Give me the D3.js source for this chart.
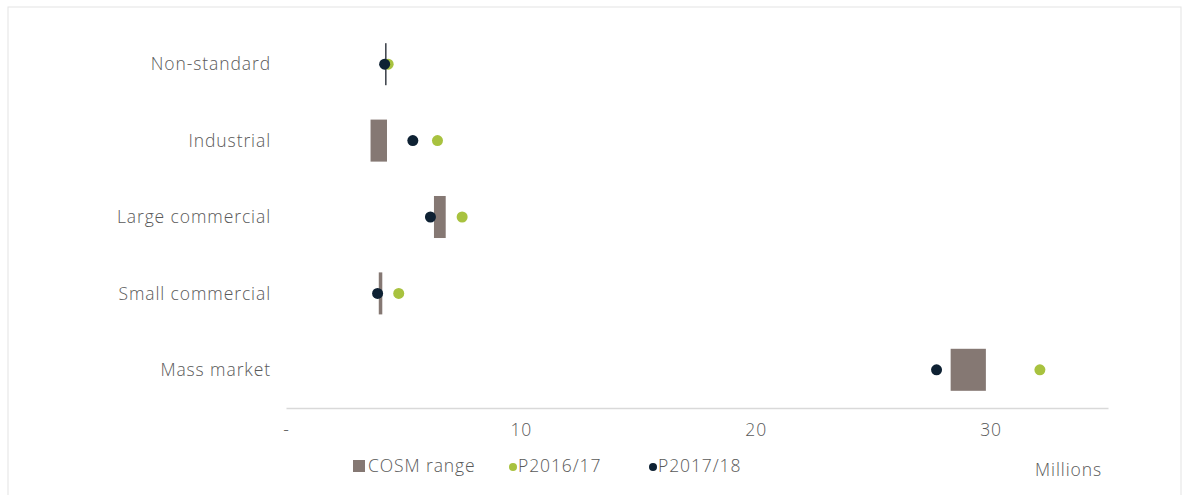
<!DOCTYPE html>
<html>
<head>
<meta charset="utf-8">
<script src="https://cdn.jsdelivr.net/npm/d3@7"></script>
<style>
  body { margin: 0; background: #fff; }
  text { font-family: "Open Sans", Lato, sans-serif; font-weight: 300; fill: #595959; letter-spacing: 0.9px; }
</style>
</head>
<body>
<div id="chart"></div>
<script>
const categories = ['Non-standard', 'Industrial', 'Large commercial', 'Small commercial', 'Mass market'];
const cosmMin = [4.25, 3.6, 6.3, 3.95, 28.3];
const cosmMax = [4.25, 4.3, 6.8, 4.1, 29.8];
const p2016 = [4.35, 6.45, 7.5, 4.8, 32.1];
const p2017 = [4.2, 5.4, 6.15, 3.9, 27.7];
const ticks = [0, 10, 20, 30];

const width = 1189;
const height = 495;
const margin = { top: 26, bottom: 87, left: 286, right: 81 };

const colors = { cosm: '#857873', p16: '#a8c23f', p17: '#0e2133' };

const svg = d3.select('#chart')
  .append('svg')
  .attr('width', width)
  .attr('height', height);

// light frame round the figure
svg.append('rect')
  .attr('x', 8).attr('y', 7)
  .attr('width', 1173).attr('height', 500)
  .attr('fill', 'none')
  .attr('stroke', '#e3e3e3');

const x = d3.scaleLinear()
  .domain([0, 35])
  .range([margin.left, width - margin.right]);

const y = d3.scaleBand()
  .domain(categories)
  .range([margin.top, height - margin.bottom])
  .paddingInner(0.45)
  .paddingOuter(0.225);

// category labels
svg.append('g')
  .selectAll('text')
  .data(categories)
  .join('text')
    .attr('x', 271)
    .attr('y', d => y(d) + y.bandwidth() / 2)
    .attr('dy', '0.35em')
    .attr('text-anchor', 'end')
    .attr('font-size', 17.5)
    .text(d => d);

// x axis
const xAxis = svg.append('g')
  .attr('transform', `translate(0,${height - margin.bottom})`)
  .call(d3.axisBottom(x).tickValues(ticks).tickSize(0).tickPadding(16)
    .tickFormat(d => d === 0 ? '-' : d));
xAxis.select('.domain').attr('stroke', '#d9d9d9').attr('stroke-width', 1.5);
xAxis.selectAll('text').attr('font-size', 17.5).attr('font-family', null).attr('fill', '#595959');

svg.append('text')
  .attr('x', width - margin.right - 6)
  .attr('y', 476)
  .attr('text-anchor', 'end')
  .attr('font-size', 17.5)
  .text('Millions');

// COSM range bars
svg.append('g')
  .selectAll('rect')
  .data(categories)
  .join('rect')
    .attr('x', (d, i) => x(cosmMin[i]) - (cosmMax[i] === cosmMin[i] ? 0.75 : 0))
    .attr('y', d => y(d))
    .attr('width', (d, i) => Math.max(x(cosmMax[i]) - x(cosmMin[i]), 1.5))
    .attr('height', y.bandwidth())
    .attr('fill', (d, i) => cosmMax[i] === cosmMin[i] ? '#3a3f48' : colors.cosm);

// points
svg.append('g')
  .selectAll('circle')
  .data(categories)
  .join('circle')
    .attr('cx', (d, i) => x(p2016[i]))
    .attr('cy', d => y(d) + y.bandwidth() / 2)
    .attr('r', 5.5)
    .attr('fill', colors.p16);

svg.append('g')
  .selectAll('circle')
  .data(categories)
  .join('circle')
    .attr('cx', (d, i) => x(p2017[i]))
    .attr('cy', d => y(d) + y.bandwidth() / 2)
    .attr('r', 5.5)
    .attr('fill', colors.p17);

// legend
const legend = svg.append('g').attr('transform', 'translate(353,466)');
const items = [
  { label: 'COSM range', color: colors.cosm, shape: 'rect', dx: 0 },
  { label: 'P2016/17', color: colors.p16, shape: 'circle', dx: 160 },
  { label: 'P2017/18', color: colors.p17, shape: 'circle', dx: 300 }
];
items.forEach(it => {
  const g = legend.append('g').attr('transform', `translate(${it.dx},0)`);
  if (it.shape === 'rect') {
    g.append('rect').attr('x', 0).attr('y', -6).attr('width', 12).attr('height', 12).attr('fill', it.color);
    g.append('text').attr('x', 15).attr('dy', '0.35em').attr('font-size', 17.5).text(it.label);
  } else {
    g.append('circle').attr('cx', 0).attr('cy', 1).attr('r', 4).attr('fill', it.color);
    g.append('text').attr('x', 5).attr('dy', '0.35em').attr('font-size', 17.5).text(it.label);
  }
});
</script>
</body>
</html>
